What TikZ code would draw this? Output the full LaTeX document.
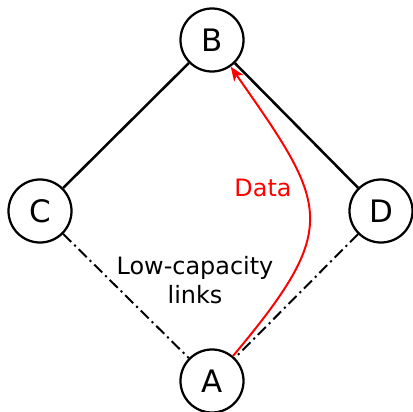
\documentclass[tikz,border=0pt]{standalone}
\usepackage{fontspec}
\setmainfont{DejaVu Sans}
\usepackage{xcolor}
\usepackage{tikz}
\usetikzlibrary{positioning,arrows.meta}

\begin{document}
\begin{tikzpicture}[
  x=0.025cm, y=-0.025cm,
  every node/.style={font=\fontsize{17}{21}\selectfont},
  station/.style={draw, circle, line width=1.6pt, minimum size=1.575cm, inner sep=0pt, fill=white, font=\fontsize{22}{26}\selectfont},
  strong/.style={line width=1.8pt},
  weak/.style={line width=1.4pt, dash pattern=on 8pt off 3pt on 1.5pt off 3pt},
  data/.style={red, line width=1.4pt, -{Stealth[length=10pt,width=8pt,inset=2.5pt]}},
]
\useasboundingbox (0,0) rectangle (413,412);
% ---------------- stations ----------------
\node[station] (B) at (212,40)  {B};
\node[station] (C) at (40,211)  {C};
\node[station] (D) at (381,211) {D};
\node[station] (A) at (212,381) {A};

% ---------------- links ----------------
\draw[strong] (B) -- (C);
\draw[strong] (B) -- (D);
\draw[weak] (C) -- (A);
\draw[weak] (D) -- (A);

\node[align=center] (lowcap) at (195,280) {Low-capacity\\links};

% ---------------- data flow ----------------
\draw[data] (A) to[out=50, in=-55, looseness=1.5] (B);
\node[red] (datalbl) at (263,188) {Data};
\end{tikzpicture}
\end{document}
